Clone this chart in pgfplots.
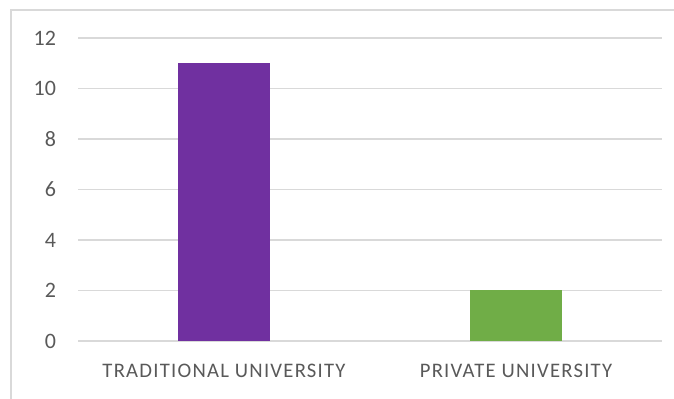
\documentclass[border=0pt]{standalone}
\usepackage{pgfplots}
\pgfplotsset{compat=1.18}
\usepackage{fontspec}
\setmainfont{Carlito}
\newfontfamily\labfont[LetterSpace=6]{Carlito}
\definecolor{gridc}{HTML}{D9D9D9}
\definecolor{txt}{HTML}{595959}
\definecolor{purp}{HTML}{7030A0}
\definecolor{grn}{HTML}{70AD47}
\begin{document}
\begin{tikzpicture}[x=0.75pt,y=0.75pt]
\useasboundingbox (0,0) rectangle (674,399);
\draw[gridc, line width=1.5pt] (11,0) -- (11,389) -- (674,389);
\begin{axis}[
  at={(58.5pt,43.5pt)}, anchor=south west,
  scale only axis,
  width=438pt, height=227.25pt,
  xmin=-0.5, xmax=1.5, ymin=0, ymax=12,
  ytick={0,2,...,12},
  xtick={0,1},
  xticklabels={TRADITIONAL UNIVERSITY, PRIVATE UNIVERSITY},
  ymajorgrids, grid style={gridc, line width=0.8pt},
  axis line style={draw=none},
  major tick style={draw=none},
  /pgf/number format/assume math mode=true,
  tick label style={text=txt},
  yticklabel style={font=\fontsize{16.5}{18}\selectfont, xshift=-13pt},
  xticklabel style={font=\labfont\fontsize{15.5}{17}\selectfont, yshift=-14pt},
  clip=false,
]
\addplot[ybar, bar width=69pt, bar shift=0pt, fill=purp, draw=none] coordinates {(0,11)};
\addplot[ybar, bar width=69pt, bar shift=0pt, fill=grn, draw=none] coordinates {(1,2)};
\end{axis}
\end{tikzpicture}
\end{document}
